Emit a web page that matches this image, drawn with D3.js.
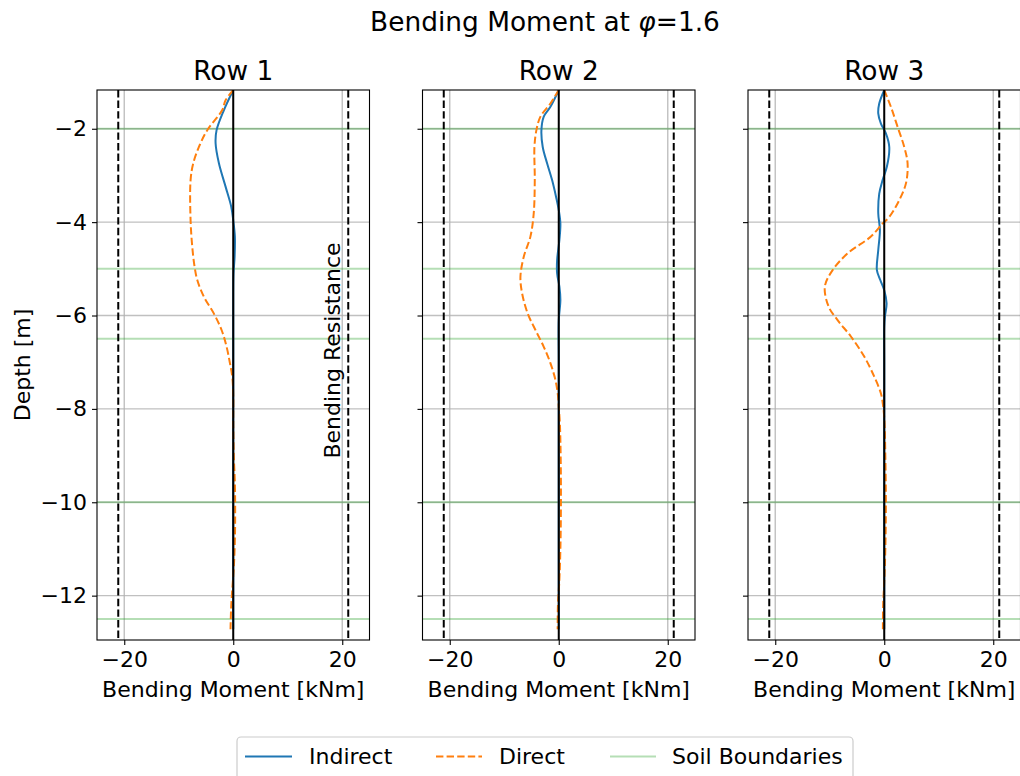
<!DOCTYPE html>
<html>
<head>
<meta charset="utf-8">
<script src="https://cdn.jsdelivr.net/npm/d3@7"></script>
<style>
  body { margin: 0; background: #fff; }
  svg { display: block; font-family: "DejaVu Sans", sans-serif; }
</style>
</head>
<body>
<svg id="chart" width="1020" height="776"></svg>
<script>
// ---- data -------------------------------------------------------------
const rowNames = ["Row 1", "Row 2", "Row 3"];
const xTicks = [-20, 0, 20];
const yTicks = [-2, -4, -6, -8, -10, -12];
const soilBoundaries = [-2, -5, -6.5, -10, -12.5];
const bendingResistance = 21.1;
const xDomain = [-25, 25];
const yDomain = [-12.95, -1.17];

// Row 1
const indirectDepth1 = [-1.17, -1.6, -2.03, -2.31, -2.74, -3.24, -3.67, -3.96, -4.31, -4.74, -5.1, -5.5, -7, -9, -11, -12.72];
const indirect1      = [0, -1.71, -3.06, -3.24, -2.63, -1.41, -0.37, 0, 0.3, 0.25, 0.05, 0, 0, 0, 0, 0];
const directDepth1 = [-1.17, -1.39, -1.6, -2.03, -2.39, -2.74, -3.1, -3.96, -4.53, -4.96, -5.24, -5.6, -5.96, -6.31, -6.67, -7.02, -7.31, -7.7, -8.3, -9.0, -9.6, -10.2, -10.8, -11.4, -11.9, -12.3, -12.72];
const direct1      = [0, -1.41, -2.02, -4.77, -6.3, -7.34, -7.83, -7.83, -7.52, -7.09, -6.6, -5.38, -3.55, -2.14, -1.22, -0.61, -0.18, 0, 0, 0.1, 0.3, 0.35, 0.3, 0.1, -0.2, -0.4, -0.5];

// Row 2
const indirectDepth2 = [-1.17, -1.53, -1.74, -2.03, -2.39, -2.74, -3.1, -3.46, -3.74, -4.03, -4.38, -4.81, -5.1, -5.38, -5.67, -6.1, -7, -9, -11, -12.72];
const indirect2      = [0, -1.53, -2.75, -3.18, -2.94, -2.14, -1.22, -0.49, 0, 0.3, 0.12, -0.3, -0.3, 0.12, 0.3, 0, 0, 0, 0, 0];
const directDepth2 = [-1.17, -1.46, -1.74, -2.03, -2.39, -3.1, -3.81, -4.31, -4.74, -5.17, -5.52, -5.96, -6.31, -6.67, -7.02, -7.38, -7.74, -7.96, -8.3, -9, -10, -11, -11.7, -12.2, -12.72];
const direct2      = [0, -1.53, -3.36, -4.1, -4.46, -4.4, -4.59, -5.2, -6.42, -7.03, -6.73, -5.69, -4.28, -2.75, -1.53, -0.61, -0.12, 0, 0.2, 0.35, 0.4, 0.3, 0.1, -0.15, -0.2];

// Row 3
const indirectDepth3 = [-1.17, -1.46, -1.67, -1.89, -2.1, -2.39, -2.81, -3.1, -3.39, -3.81, -4.17, -4.6, -5.03, -5.24, -5.46, -5.74, -6.03, -6.24, -7, -9, -11, -12.72];
const indirect3      = [0, -0.92, -1.1, -0.61, 0.3, 0.92, 0.49, -0.3, -0.92, -1.1, -0.8, -1.1, -1.35, -0.73, 0, 0.43, 0.12, 0, 0, 0, 0, 0];
const directDepth3 = [-1.17, -1.53, -1.96, -2.39, -2.74, -3.17, -3.53, -3.89, -4.03, -4.31, -4.67, -5.03, -5.38, -5.81, -6.1, -6.45, -6.88, -7.31, -7.67, -7.96, -8.3, -9, -10, -11, -11.7, -12.2, -12.72];
const direct3      = [0, 1.22, 2.45, 3.67, 4.28, 3.98, 2.75, 0.92, -0.3, -2.45, -6.73, -9.48, -10.9, -10.2, -8.56, -6.12, -3.67, -1.83, -0.61, -0.18, 0.05, 0.2, 0.3, 0.2, 0, -0.2, -0.25];

const legendLabels = ["Indirect", "Direct", "Soil Boundaries"];

// ---- layout ------------------------------------------------------------
const panelLeft = [97, 422.5, 748];
const panelTop = 90, panelW = 272.5, panelH = 550;
const fs = 22, fsLarge = 26.4;
const blue = "#1f77b4", orange = "#ff7f0e", green = "#2ca02c";
const lw = 2;
const dash = "7.4,3.2";

const panels = [
  { name: rowNames[0], ind: d3.zip(indirectDepth1, indirect1), dir: d3.zip(directDepth1, direct1) },
  { name: rowNames[1], ind: d3.zip(indirectDepth2, indirect2), dir: d3.zip(directDepth2, direct2) },
  { name: rowNames[2], ind: d3.zip(indirectDepth3, indirect3), dir: d3.zip(directDepth3, direct3) }
];

const svg = d3.select("#chart");
const fmt = d => (d < 0 ? "\u2212" + Math.abs(d) : String(d));

const y = d3.scaleLinear().domain(yDomain).range([panelTop + panelH, panelTop]);

svg.append("defs").selectAll("clipPath").data(panels).join("clipPath")
  .attr("id", (d, i) => "clip" + i)
  .append("rect")
  .attr("x", (d, i) => panelLeft[i]).attr("y", panelTop)
  .attr("width", panelW).attr("height", panelH);

panels.forEach((p, i) => {
  const x = d3.scaleLinear().domain(xDomain).range([panelLeft[i], panelLeft[i] + panelW]);
  const g = svg.append("g");
  const plot = g.append("g").attr("clip-path", `url(#clip${i})`);

  // grid
  plot.selectAll(".hgrid").data(yTicks).join("line")
    .attr("x1", panelLeft[i]).attr("x2", panelLeft[i] + panelW)
    .attr("y1", d => y(d)).attr("y2", d => y(d))
    .attr("stroke", "#b0b0b0").attr("stroke-opacity", 0.8).attr("stroke-width", 1.4);
  plot.selectAll(".vgrid").data(xTicks).join("line")
    .attr("y1", panelTop).attr("y2", panelTop + panelH)
    .attr("x1", d => x(d)).attr("x2", d => x(d))
    .attr("stroke", "#b0b0b0").attr("stroke-opacity", 0.8).attr("stroke-width", 1.4);

  // soil boundaries
  plot.selectAll(".soil").data(soilBoundaries).join("line")
    .attr("x1", panelLeft[i]).attr("x2", panelLeft[i] + panelW)
    .attr("y1", d => y(d)).attr("y2", d => y(d))
    .attr("stroke", green).attr("stroke-opacity", 0.35).attr("stroke-width", lw);

  // bending resistance limits
  plot.selectAll(".res").data([-bendingResistance, bendingResistance]).join("line")
    .attr("y1", panelTop).attr("y2", panelTop + panelH)
    .attr("x1", d => x(d)).attr("x2", d => x(d))
    .attr("stroke", "#000").attr("stroke-width", lw).attr("stroke-dasharray", dash);

  const line = d3.line().x(d => x(d[1])).y(d => y(d[0])).curve(d3.curveCatmullRom.alpha(0.5));

  plot.append("path").attr("d", line(p.ind))
    .attr("fill", "none").attr("stroke", blue).attr("stroke-width", lw);
  plot.append("path").attr("d", line(p.dir))
    .attr("fill", "none").attr("stroke", orange).attr("stroke-width", lw)
    .attr("stroke-dasharray", dash);

  // zero line
  plot.append("line")
    .attr("y1", panelTop).attr("y2", panelTop + panelH)
    .attr("x1", x(0)).attr("x2", x(0))
    .attr("stroke", "#000").attr("stroke-width", lw);

  // spines
  g.append("rect")
    .attr("x", panelLeft[i]).attr("y", panelTop)
    .attr("width", panelW).attr("height", panelH)
    .attr("fill", "none").attr("stroke", "#000").attr("stroke-width", 1.1);

  // axes
  const ax = g.append("g").attr("transform", `translate(0,${panelTop + panelH})`)
    .call(d3.axisBottom(x).tickValues(xTicks).tickFormat(fmt).tickSize(5).tickPadding(6).tickSizeOuter(0));
  const ay = g.append("g").attr("transform", `translate(${panelLeft[i]},0)`)
    .call(d3.axisLeft(y).tickValues(yTicks).tickFormat(i === 0 ? fmt : () => "").tickSize(5).tickPadding(5).tickSizeOuter(0));
  [ax, ay].forEach(a => {
    a.select(".domain").remove();
    a.selectAll("text").attr("font-size", fs).attr("font-family", "DejaVu Sans").attr("fill", "#000");
    a.selectAll("line").attr("stroke", "#000").attr("stroke-width", 1.1);
  });

  g.append("text")
    .attr("x", panelLeft[i] + panelW / 2).attr("y", 697)
    .attr("text-anchor", "middle").attr("font-size", fs)
    .text("Bending Moment [kNm]");

  g.append("text")
    .attr("x", panelLeft[i] + panelW / 2).attr("y", 80)
    .attr("text-anchor", "middle").attr("font-size", fsLarge)
    .text(p.name);

  if (i === 0) {
    g.append("text")
      .attr("transform", `translate(${x(19.5)},${y(-6.75)}) rotate(-90)`)
      .attr("text-anchor", "middle").attr("font-size", fs)
      .text("Bending Resistance");
  }
});

// y label
svg.append("text")
  .attr("transform", `translate(30,${panelTop + panelH / 2}) rotate(-90)`)
  .attr("text-anchor", "middle").attr("font-size", fs)
  .text("Depth [m]");

// suptitle
const st = svg.append("text")
  .attr("x", 545).attr("y", 31)
  .attr("text-anchor", "middle").attr("font-size", fsLarge);
st.append("tspan").text("Bending Moment at ");
st.append("tspan").attr("font-style", "italic").text("\u03C6");
st.append("tspan").text("=1.6");

// legend
const lg = svg.append("g");
lg.append("rect")
  .attr("x", 237).attr("y", 737).attr("width", 616).attr("height", 48).attr("rx", 4)
  .attr("fill", "#fff").attr("fill-opacity", 0.8)
  .attr("stroke", "#cccccc").attr("stroke-width", 1.2);
const handles = [
  { x1: 245, x2: 292, tx: 309, stroke: blue, op: 1, dash: null },
  { x1: 436, x2: 482, tx: 499, stroke: orange, op: 1, dash: dash },
  { x1: 610, x2: 656, tx: 672, stroke: green, op: 0.35, dash: null }
];
handles.forEach((h, k) => {
  lg.append("line")
    .attr("x1", h.x1).attr("x2", h.x2).attr("y1", 756.5).attr("y2", 756.5)
    .attr("stroke", h.stroke).attr("stroke-opacity", h.op).attr("stroke-width", lw)
    .attr("stroke-dasharray", h.dash);
  lg.append("text")
    .attr("x", h.tx).attr("y", 764)
    .attr("font-size", fs)
    .text(legendLabels[k]);
});
</script>
</body>
</html>
